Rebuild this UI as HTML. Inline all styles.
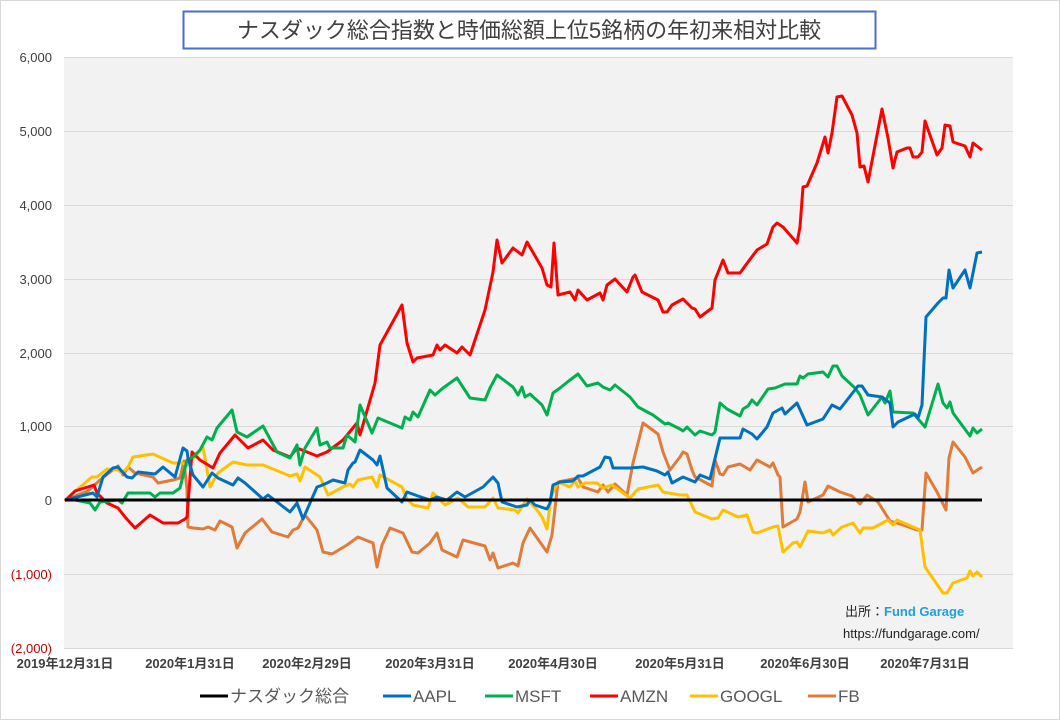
<!DOCTYPE html>
<html><head><meta charset="utf-8"><style>
body{margin:0;background:#fff}
svg{display:block}
text{font-family:"Liberation Sans","Noto Sans CJK JP",sans-serif}
</style></head><body>
<svg width="1060" height="720" viewBox="0 0 1060 720" xmlns="http://www.w3.org/2000/svg">
<rect x="0.5" y="0.5" width="1059" height="719" fill="#fff" stroke="#d9d9d9"/>
<rect x="64" y="57" width="949" height="591" fill="#f2f2f2"/>
<g stroke="#d9d9d9" stroke-width="1">
<line x1="64" x2="1013" y1="57.5" y2="57.5"/><line x1="64" x2="1013" y1="131.5" y2="131.5"/>
<line x1="64" x2="1013" y1="205.5" y2="205.5"/><line x1="64" x2="1013" y1="279.5" y2="279.5"/>
<line x1="64" x2="1013" y1="353.5" y2="353.5"/><line x1="64" x2="1013" y1="426.5" y2="426.5"/>
<line x1="64" x2="1013" y1="574.5" y2="574.5"/><line x1="64" x2="1013" y1="648.5" y2="648.5"/>
</g>
<g font-size="13" fill="#404040" text-anchor="end">
<text x="52" y="62">6,000</text><text x="52" y="136">5,000</text><text x="52" y="210">4,000</text>
<text x="52" y="284">3,000</text><text x="52" y="358">2,000</text><text x="52" y="431">1,000</text>
<text x="52" y="505">0</text>
<text x="52" y="579" fill="#c00000">(1,000)</text><text x="52" y="653" fill="#c00000">(2,000)</text>
</g>
<g font-size="13" fill="#404040" text-anchor="middle" font-weight="bold">
<text x="65" y="668">2019年12月31日</text><text x="190" y="668">2020年1月31日</text>
<text x="307" y="668">2020年2月29日</text><text x="430" y="668">2020年3月31日</text>
<text x="553" y="668">2020年4月30日</text><text x="680" y="668">2020年5月31日</text>
<text x="805" y="668">2020年6月30日</text><text x="925" y="668">2020年7月31日</text>
</g>
<g fill="none" stroke-width="3" stroke-linejoin="round">
<polyline stroke="#e07b39" points="65,500 88,491 100,480 118,466 123,475 128,467 135,473 153,477 158,483 173,480 180,478 184,461 187,490 188,527 193,528 203,529 208,527 215,530 220,521 232,527 237,548 245,533 262,519 272,532 288,537 293,530 298,528 305,515 317,530 323,552 332,554 347,545 358,537 373,543 377,567 382,545 390,528 403,533 412,552 418,553 430,543 437,533 442,550 457,557 463,540 485,546 490,560 493,553 498,568 513,563 518,566 523,543 530,528 547,552 552,535 558,482 578,478 583,487 598,492 603,485 608,492 615,484 627,495 633,463 643,423 658,434 663,452 670,470 680,457 683,452 687,454 692,470 695,477 712,486 715,460 720,474 723,475 728,467 740,464 750,470 757,460 770,467 773,463 778,475 780,477 783,527 797,519 800,512 805,482 808,502 823,495 828,486 840,492 852,496 860,504 867,495 878,502 890,521 903,525 917,530 922,530 926,473 937,492 946,510 949,458 953,442 965,457 973,473 982,467"/>
<polyline stroke="#ffc000" points="65,500 92,477 97,477 107,469 118,470 122,473 128,467 133,457 153,454 173,463 182,463 188,465 192,460 203,447 210,487 218,473 233,462 247,465 263,465 273,469 290,476 297,474 300,481 305,467 320,477 328,495 343,487 350,484 353,487 358,480 372,477 377,487 380,475 402,487 407,499 413,505 428,508 433,493 445,505 458,498 468,507 485,507 493,498 498,508 515,510 518,513 527,499 537,510 542,517 547,529 551,497 558,482 570,487 575,481 578,487 585,483 597,483 603,488 612,485 623,493 630,498 638,489 658,485 663,492 680,495 687,495 695,512 712,519 718,518 723,510 738,517 747,515 753,532 757,533 773,527 778,526 783,552 793,543 797,542 800,547 808,531 823,533 830,530 833,535 842,527 853,523 860,533 863,528 873,528 888,520 893,525 897,520 920,530 925,567 943,593 947,593 953,583 967,578 970,571 973,576 977,572 982,577"/>
<polyline stroke="#ff0000" points="65,501 75,491 94,485 97,493 107,503 118,508 125,517 135,528 150,515 163,523 178,523 185,519 187,517 192,452 200,460 213,468 220,453 235,435 248,448 263,440 273,450 290,457 297,448 317,456 327,452 343,440 357,423 360,435 375,383 380,345 402,305 407,343 413,362 417,358 433,355 437,345 440,350 445,345 457,353 462,347 470,355 485,310 493,272 497,240 502,263 513,248 522,255 527,242 542,268 547,285 551,287 554,243 558,295 570,292 575,300 578,290 587,300 600,293 603,300 607,285 615,279 627,292 633,277 635,275 642,292 658,300 663,312 667,312 672,305 683,299 692,308 695,309 700,317 712,308 715,280 723,260 728,273 740,273 748,262 757,250 767,244 773,227 777,223 783,227 797,243 800,227 803,187 807,186 817,163 825,137 828,153 832,133 837,97 842,96 852,115 857,133 860,167 864,166 868,182 882,109 888,138 893,168 897,152 907,148 910,148 913,157 918,157 922,152 925,121 937,155 942,148 945,125 950,126 953,142 965,146 970,157 973,143 982,150"/>
<polyline stroke="#00b050" points="65,500 75,500 90,503 95,510 100,502 118,500 122,503 128,493 150,493 155,497 160,493 173,493 180,488 187,460 193,457 200,450 207,437 212,440 217,428 232,410 237,432 247,437 263,426 277,452 290,458 297,445 300,465 305,448 317,428 320,445 327,442 330,448 343,448 347,435 355,442 360,405 372,433 378,418 402,428 405,417 410,420 413,412 418,417 430,390 435,395 443,388 457,378 470,398 485,400 490,388 497,375 513,387 518,395 522,387 525,397 530,394 542,405 547,415 553,393 560,388 570,380 578,374 587,386 598,383 603,387 610,390 615,385 630,397 638,407 653,415 665,424 668,423 680,429 683,431 687,427 695,435 700,431 712,435 715,432 720,403 727,409 740,416 743,409 748,406 752,400 757,405 768,389 775,388 785,384 797,384 800,376 803,378 808,374 823,372 828,377 833,366 837,366 842,376 855,388 860,395 868,415 882,397 885,403 890,391 893,412 913,413 925,427 938,384 943,403 947,408 950,402 953,413 970,436 973,428 977,433 982,429"/>
<polyline stroke="#0070c0" points="65,500 93,493 97,497 103,477 113,468 118,467 127,477 132,478 138,472 155,474 163,467 175,477 183,448 187,451 188,458 193,475 203,487 212,473 218,478 233,485 238,478 245,483 263,499 268,495 290,512 297,503 303,519 317,487 320,486 327,483 333,480 345,483 348,470 353,463 355,462 360,450 373,460 377,465 380,456 387,488 402,502 407,492 418,496 430,500 437,497 447,500 457,492 465,497 483,487 493,477 498,483 502,502 517,507 527,505 530,500 535,505 547,509 550,503 553,485 560,482 573,481 578,476 583,476 600,467 605,457 610,458 613,468 630,468 643,467 657,471 665,475 668,472 672,483 683,477 695,482 700,475 710,479 720,438 740,438 743,429 752,434 757,439 767,427 773,413 782,408 785,414 797,403 807,425 823,419 832,405 840,409 858,386 862,386 868,395 882,397 890,403 893,427 898,422 915,414 918,418 922,405 926,317 938,303 943,298 946,298 949,270 953,288 965,270 970,288 977,253 982,252"/>
<line x1="65" y1="500" x2="982" y2="500" stroke="#000"/>
</g>
<rect x="183.5" y="11.5" width="692" height="37" fill="#fff" stroke="#4472c4" stroke-width="2"/>
<text x="529" y="38" font-size="22" fill="#404040" text-anchor="middle">ナスダック総合指数と時価総額上位5銘柄の年初来相対比較</text>
<text x="845" y="616" font-size="13" fill="#222">出所：<tspan fill="#1ea0dc" font-weight="bold">Fund Garage</tspan></text>
<text x="843" y="638" font-size="13" fill="#222">https://fundgarage.com/</text>
<g stroke-width="3">
<line x1="200" x2="228" y1="696" y2="696" stroke="#000"/>
<line x1="383" x2="411" y1="696" y2="696" stroke="#0070c0"/>
<line x1="485" x2="513" y1="696" y2="696" stroke="#00b050"/>
<line x1="590" x2="618" y1="696" y2="696" stroke="#ff0000"/>
<line x1="690" x2="718" y1="696" y2="696" stroke="#ffc000"/>
<line x1="808" x2="836" y1="696" y2="696" stroke="#e07b39"/>
</g>
<g font-size="17" fill="#595959">
<text x="230" y="702">ナスダック総合</text><text x="413" y="702">AAPL</text>
<text x="515" y="702">MSFT</text><text x="620" y="702">AMZN</text>
<text x="720" y="702">GOOGL</text><text x="838" y="702">FB</text>
</g>
</svg>
</body></html>
